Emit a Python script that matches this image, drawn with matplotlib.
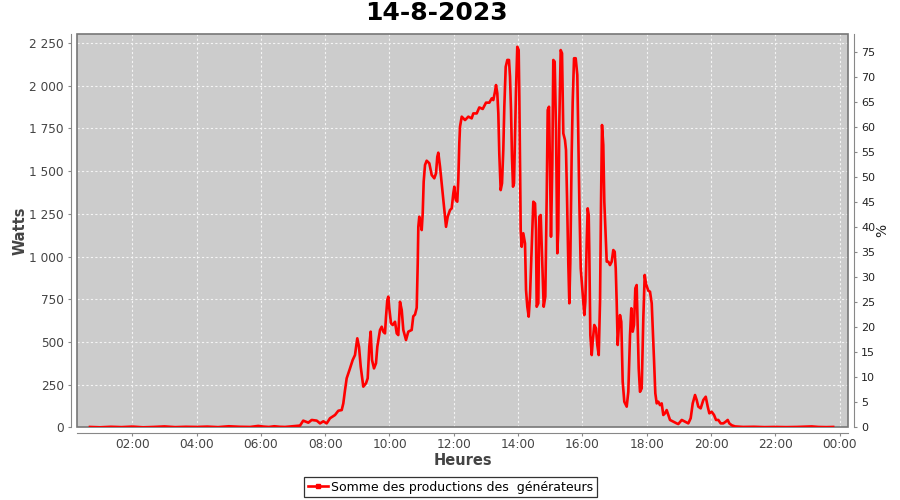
import matplotlib
matplotlib.use("Agg")
import matplotlib.pyplot as plt
import matplotlib.dates as mdates
from matplotlib.lines import Line2D
from matplotlib.patches import Rectangle
from matplotlib.ticker import FuncFormatter
from datetime import datetime, timedelta

title = "14-8-2023"
series_name = "Somme des productions des  générateurs"
x_label = "Heures"
y_label = "Watts"
y2_label = "%"

# time of day in minutes after midnight
minutes = [41, 60, 80, 100, 120, 140, 160, 180, 200, 220, 240, 260, 280, 300, 320, 340, 355, 365, 375, 385,
           395, 405, 415, 425, 433, 439, 448.5, 454.8, 464.2, 470.3, 476.5, 482.8, 489, 498.3, 504.5, 510.8,
           513.8, 517, 520.1, 526.3, 531.3, 535.6, 539.9, 543.1, 546.3, 551.1, 556.2, 559.3, 562.3, 564.9,
           567.4, 571.1, 574.8, 577.3, 582.3, 585.5, 588.4, 591.6, 593.5, 595.9, 597.8, 599.6, 602.8, 606,
           610.3, 613.5, 616.4, 619.6, 622.8, 625.8, 630.8, 635.1, 641.4, 644.4, 647.6, 650.8, 652.7, 653.8,
           655.6, 658.2, 660.1, 662, 663.8, 666.3, 669.4, 674.3, 678.8, 683.6, 686.8, 689.2, 691.1, 694.3,
           697.4, 700.4, 703.6, 705.5, 708.6, 712.9, 716.1, 719.1, 721, 723.6, 726.5, 728.4, 730.3, 731.6,
           734.8, 741, 747.1, 753.4, 756.4, 762.8, 767.6, 774, 780.1, 786.3, 790.8, 793.7, 796.9, 798.8,
           801.2, 803.1, 804.9, 807.5, 810, 812.4, 814.3, 816.9, 819.9, 823, 824.9, 826.8, 828.6, 830.5,
           832.4, 834.2, 836.1, 838.5, 841.1, 842.3, 843.6, 844.9, 846.7, 849.7, 852.9, 854.8, 857.2, 859.8,
           862.2, 865.4, 868.4, 871.6, 873.4, 874.7, 877.7, 879.6, 882.2, 885.2, 887.8, 890.8, 893.4, 895.3,
           897.7, 899.6, 901.4, 903.9, 905.7, 908.3, 910.8, 913.2, 915, 916.9, 919.5, 922, 924.4, 927.5,
           929.4, 931.3, 933.7, 935.6, 937.4, 940, 941.9, 944.4, 947.5, 950.5, 952.4, 954.3, 956.9, 960.6,
           963.6, 965.5, 968.1, 969.9, 971.8, 972.9, 974.8, 977.4, 979.2, 982.2, 985.4, 987.8, 990.5, 992.9,
           994.8, 996.6, 999, 1000.9, 1003.5, 1005.4, 1008.4, 1011.5, 1014.7, 1017.7, 1020.3, 1022.2, 1024,
           1025.9, 1027.8, 1030.2, 1032.6, 1035.2, 1038.2, 1042.7, 1045.7, 1048.9, 1051.3, 1053.9, 1056.3,
           1058.8, 1061.3, 1063.2, 1065.1, 1067.5, 1070.7, 1073.7, 1076.3, 1078.7, 1083, 1086.2, 1089.4,
           1091.2, 1093.7, 1096.1, 1098.7, 1101.7, 1104.8, 1108, 1111, 1114.2, 1117.3, 1120.3, 1123.5,
           1129.7, 1136, 1139, 1145.4, 1151.5, 1157.7, 1162.1, 1165.9, 1170.2, 1173.3, 1176.3, 1180.8,
           1185.7, 1190.2, 1193.9, 1196.9, 1201.3, 1205.7, 1209.4, 1213.7, 1218.1, 1223, 1227.5, 1231.2,
           1234.2, 1238.7, 1245, 1260, 1280, 1300, 1320, 1340, 1360, 1388, 1400, 1415, 1428]

watts = [2, 0, 3, 1, 4, 0, 2, 5, 1, 3, 2, 4, 1, 6, 3, 2, 8, 4, 2, 6,
         3, 2, 5, 8, 10, 39, 27, 43, 39, 23, 35, 23, 53, 72, 97, 101,
         140, 218, 287, 345, 394, 423, 521, 472, 355, 238, 258, 287, 472, 560,
         394, 345, 375, 472, 570, 589, 560, 550, 648, 745, 765, 697, 609, 599,
         618, 550, 540, 735, 687, 570, 511, 560, 570, 650, 660, 700, 960, 1174,
         1233, 1194, 1155, 1253, 1438, 1536, 1561, 1546, 1477, 1458, 1487, 1584, 1608, 1526,
         1429, 1331, 1233, 1174, 1233, 1272, 1282, 1370, 1409, 1331, 1321, 1448, 1663, 1760,
         1819, 1799, 1819, 1809, 1838, 1838, 1873, 1864, 1901, 1901, 1926, 1916, 1965, 2004,
         1956, 1838, 1604, 1389, 1429, 1624, 1877, 2111, 2151, 2151, 2053, 1858, 1584, 1409,
         1429, 1682, 1975, 2228, 2209, 1936, 1546, 1155, 1057, 1136, 1077, 804, 706, 648,
         765, 1057, 1321, 1311, 1155, 706, 726, 1233, 1243, 960, 706, 765, 1350, 1858,
         1877, 1507, 1116, 1546, 2151, 2141, 1741, 1019, 1155, 1780, 2209, 2190, 1721, 1682,
         1624, 1350, 960, 726, 960, 1600, 1906, 2161, 2161, 2063, 1711, 1321, 931, 775,
         657, 735, 1087, 1282, 1243, 1028, 540, 423, 501, 599, 580, 482, 423, 735,
         1321, 1770, 1653, 1321, 1126, 970, 970, 950, 970, 1038, 1028, 931, 735,
         482, 580, 657, 618, 267, 150, 121, 208, 540, 697, 560, 599,
         814, 833, 599, 345, 208, 228, 638, 892, 840, 800, 794, 726,
         589, 394, 199, 140, 150, 130, 140, 72, 82, 101, 72, 43,
         33, 23, 19, 43, 33, 23, 53, 140, 189, 160, 121, 111,
         160, 179, 121, 82, 91, 72, 43, 43, 23, 23, 33, 43,
         23, 12, 5, 2, 3, 1, 2, 1, 2, 5, 2, 1, 2]

watts_ticks = [0, 250, 500, 750, 1000, 1250, 1500, 1750, 2000, 2250]
pct_ticks = [0, 5, 10, 15, 20, 25, 30, 35, 40, 45, 50, 55, 60, 65, 70, 75]
watts_max = 2303
pct_max = 78.6
x_start_min = 16.8
x_end_min = 1455.7

base = datetime(2023, 8, 14)
times = [base + timedelta(minutes=m) for m in minutes]

fig = plt.figure(figsize=(9, 5), dpi=100)
fig.patch.set_facecolor("white")
ax = fig.add_axes([77 / 900, 1 - 427.3 / 500, (848 - 77) / 900, (427.3 - 34) / 500])
ax.set_facecolor("#cccccc")

ax.plot(times, watts, color="#ff0000", lw=1.9, solid_joinstyle="round", zorder=6)

ax.set_xlim(base + timedelta(minutes=x_start_min), base + timedelta(minutes=x_end_min))
ax.set_ylim(0, watts_max)
ax.set_yticks(watts_ticks)
ax.yaxis.set_major_formatter(FuncFormatter(lambda v, p: f"{int(v):,}".replace(",", " ")))
ax.xaxis.set_major_locator(mdates.HourLocator(byhour=range(0, 24, 2)))
ax.xaxis.set_major_formatter(mdates.DateFormatter("%H:%M"))

ax.grid(True, color="#f4f4f4", linestyle=(0, (2, 2)), lw=0.8, zorder=1)
ax.set_axisbelow(True)

for s in ["top", "right", "left", "bottom"]:
    ax.spines[s].set_visible(False)
ax.spines["left"].set_visible(True)
ax.spines["bottom"].set_visible(True)
ax.spines["left"].set_position(("outward", 4))
ax.spines["bottom"].set_position(("outward", 4))
ax.spines["left"].set_color("#888888")
ax.spines["bottom"].set_color("#888888")
ax.add_patch(Rectangle((0, 0), 1, 1, transform=ax.transAxes, fill=False,
                       edgecolor="#777777", lw=1.2, zorder=5, clip_on=False))

ax.tick_params(axis="both", colors="#888888", labelcolor="#444444", labelsize=8.7, length=2.5, width=0.8)
ax.tick_params(axis="x", pad=1.5)
ax.tick_params(axis="y", pad=3)

ax.set_xlabel(x_label, fontsize=10.5, fontweight="bold", color="#444444", labelpad=1)
ax.set_ylabel(y_label, fontsize=10.5, fontweight="bold", color="#444444", labelpad=1.5)

ax2 = ax.twinx()
ax2.set_ylim(0, pct_max)
ax2.set_yticks(pct_ticks)
for s in ["top", "left", "bottom"]:
    ax2.spines[s].set_visible(False)
ax2.spines["right"].set_position(("outward", 4))
ax2.spines["right"].set_color("#888888")
ax2.tick_params(axis="y", colors="#888888", labelcolor="#222222", labelsize=8, length=2.5, width=0.8, pad=3)
ax2.set_ylabel(y2_label, fontsize=10, color="#222222", labelpad=0)

fig.text(436.5 / 900, 1 - 13 / 500, title, ha="center", va="center", fontsize=18, fontweight="bold", color="black")

handle = Line2D([], [], color="#ff0000", lw=1.9, marker="s", markersize=2.5)
leg = fig.legend([handle], [series_name], loc="center", bbox_to_anchor=(450.5 / 900, 1 - 487 / 500),
                 frameon=True, fancybox=False, fontsize=9, handlelength=1.6, handletextpad=0.3,
                 borderpad=0.3, borderaxespad=0)
leg.get_frame().set_edgecolor("black")
leg.get_frame().set_linewidth(0.9)

fig.savefig("out.png", dpi=100)
